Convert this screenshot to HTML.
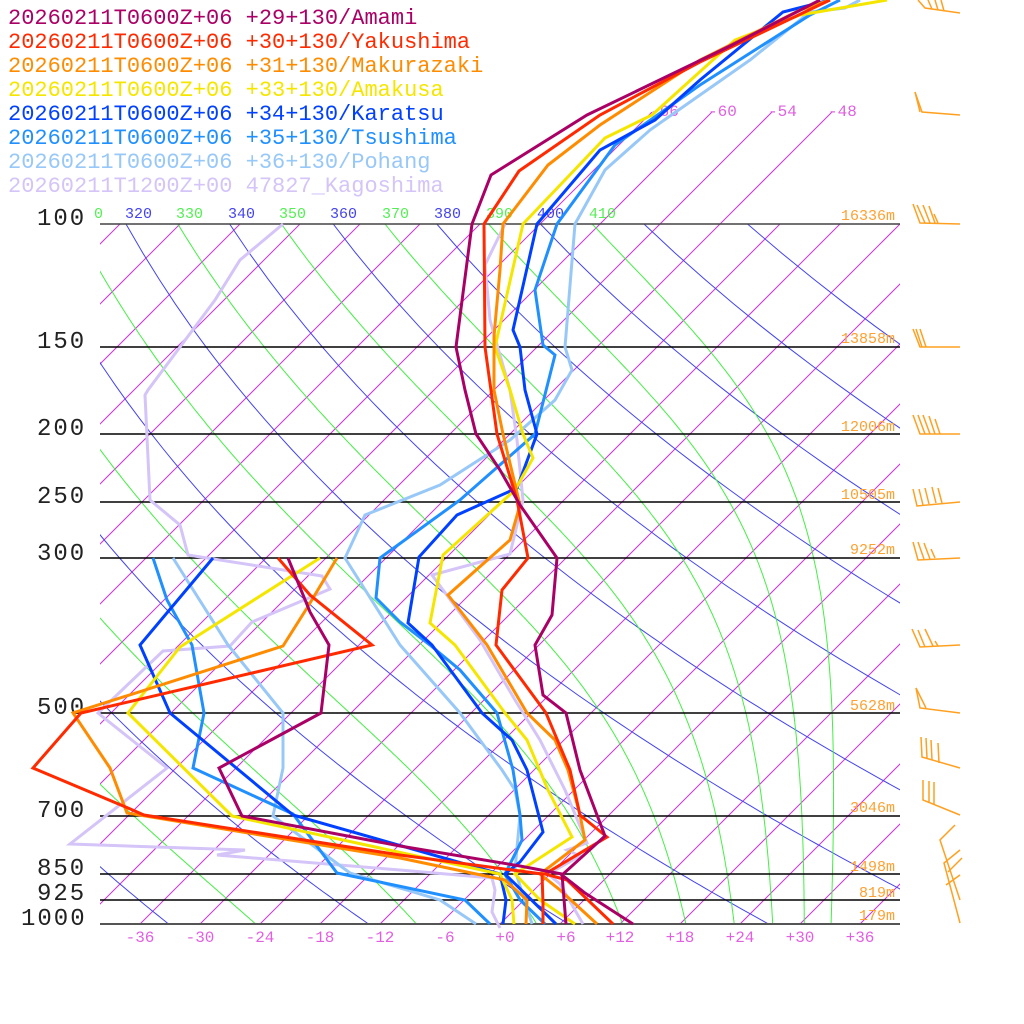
<!DOCTYPE html>
<html><head><meta charset="utf-8">
<style>
html,body{margin:0;padding:0;background:#fff;}
svg{display:block;}
text{font-family:"Liberation Mono",monospace;}
</style></head>
<body>
<svg id="s" width="1024" height="1024" viewBox="0 0 1024 1024" xmlns="http://www.w3.org/2000/svg">
<defs>
<clipPath id="cp"><rect x="100" y="224" width="800" height="700"/></clipPath>
<clipPath id="cp2"><rect x="100" y="112" width="800" height="812"/></clipPath>
</defs>
<rect width="1024" height="1024" fill="#fff"/>
<g id="bg"></g>

<g stroke="#000" stroke-width="1.5">
<line x1="100" y1="224" x2="900" y2="224" stroke="#444"/>
<line x1="100" y1="347" x2="900" y2="347"/>
<line x1="100" y1="434" x2="900" y2="434"/>
<line x1="100" y1="502" x2="900" y2="502"/>
<line x1="100" y1="558" x2="900" y2="558"/>
<line x1="100" y1="713" x2="900" y2="713"/>
<line x1="100" y1="816" x2="900" y2="816"/>
<line x1="100" y1="874" x2="900" y2="874"/>
<line x1="100" y1="900" x2="900" y2="900"/>
<line x1="100" y1="924" x2="900" y2="924" stroke="#555" stroke-width="2"/>
</g>
<g font-size="24" fill="#222" letter-spacing="2">
<text x="37" y="225">100</text>
<text x="37" y="348">150</text>
<text x="37" y="435">200</text>
<text x="37" y="503">250</text>
<text x="37" y="560">300</text>
<text x="37" y="714">500</text>
<text x="37" y="817">700</text>
<text x="37" y="875">850</text>
<text x="37" y="900">925</text>
<text x="21" y="925">1000</text>
</g>
<g font-size="16" fill="#e060e0" text-anchor="middle">
<text x="140" y="942">-36</text><text x="200" y="942">-30</text><text x="260" y="942">-24</text>
<text x="320" y="942">-18</text><text x="380" y="942">-12</text><text x="445" y="942">-6</text>
<text x="505" y="942">+0</text><text x="566" y="942">+6</text><text x="620" y="942">+12</text>
<text x="680" y="942">+18</text><text x="740" y="942">+24</text><text x="800" y="942">+30</text><text x="860" y="942">+36</text>
</g>
<g font-size="16" fill="#e060e0">
<text x="650" y="116">-66</text><text x="708" y="116">-60</text><text x="768" y="116">-54</text><text x="828" y="116">-48</text>
</g>
<g font-size="15">
<text x="94" y="218" fill="#55ee55">0</text>
<text x="125" y="218" fill="#4444ee">320</text>
<text x="176" y="218" fill="#55ee55">330</text>
<text x="228" y="218" fill="#4444ee">340</text>
<text x="279" y="218" fill="#55ee55">350</text>
<text x="330" y="218" fill="#4444ee">360</text>
<text x="382" y="218" fill="#55ee55">370</text>
<text x="434" y="218" fill="#4444ee">380</text>
<text x="486" y="218" fill="#55ee55">390</text>
<text x="537" y="218" fill="#4444ee">400</text>
<text x="589" y="218" fill="#55ee55">410</text>
</g>
<g font-size="15" fill="#ffa030" text-anchor="end">
<text x="895" y="220">16336m</text>
<text x="895" y="343">13858m</text>
<text x="895" y="431">12006m</text>
<text x="895" y="499">10505m</text>
<text x="895" y="554">9252m</text>
<text x="895" y="710">5628m</text>
<text x="895" y="812">3046m</text>
<text x="895" y="871">1498m</text>
<text x="895" y="897">819m</text>
<text x="895" y="920">179m</text>
</g>

<g fill="none" stroke-width="3" stroke-linejoin="miter">
<polyline stroke="#d4c4f8" points="583,924 560,884 548,874 580,856 567,850 587,843 565,790 540,740 515,700 480,640 432,575 510,554 523,500 517,440 510,390 490,320 485,265 505,224"/>
<polyline stroke="#d4c4f8" points="500,928 492,912 495,890 492,878 400,870 217,855 245,850 70,844 167,768 98,713 163,651 230,646 252,622 330,589 322,576 188,555 180,525 150,500 145,395 148,390 215,300 240,260 283,224"/>
<polyline stroke="#98c8f8" points="532,924 515,870 520,815 515,790 502,770 460,713 400,645 345,558 365,515 440,485 510,440 555,400 572,370 565,347 575,224 605,170 650,130 750,60 810,12 845,8 860,0"/>
<polyline stroke="#98c8f8" points="476,924 440,900 350,873 273,816 283,768 283,713 228,645 173,558"/>
<polyline stroke="#2090ff" points="545,924 520,900 505,874 522,840 520,815 513,770 497,713 460,670 430,645 400,622 376,598 380,558 460,500 535,434 555,355 543,345 535,290 557,224 615,145 700,85 810,15 840,0"/>
<polyline stroke="#2090ff" points="490,924 465,900 337,873 293,814 193,768 204,713 192,645 167,600 153,558"/>
<polyline stroke="#0040ff" points="556,924 505,874 520,862 543,832 527,770 512,740 482,713 432,645 408,623 419,557 457,515 517,488 537,434 525,390 520,347 513,330 537,224 600,150 655,120 700,80 783,12 830,0"/>
<polyline stroke="#0040ff" points="503,924 506,900 500,874 293,815 170,713 140,645 213,558"/>
<polyline stroke="#f5e600" points="575,924 540,900 515,874 572,837 548,790 527,740 505,713 455,645 430,623 443,555 515,490 533,458 523,434 510,390 495,347 508,290 523,224 605,138 652,115 735,40 800,15 887,0"/>
<polyline stroke="#f5e600" points="514,924 512,900 500,874 232,816 128,713 180,647 320,558"/>
<polyline stroke="#ff8c00" points="597,924 560,890 540,874 585,840 580,815 568,770 555,740 527,713 487,645 448,595 510,540 520,505 503,434 494,390 494,336 500,270 503,224 548,165 600,125 700,60 800,10 830,0"/>
<polyline stroke="#ff8c00" points="526,924 527,900 505,880 400,858 127,813 110,768 73,713 283,646 307,608 337,558"/>
<polyline stroke="#ff2a00" points="613,924 567,880 545,874 607,837 580,815 570,770 546,713 496,645 502,590 528,558 517,500 497,434 485,347 484,224 519,171 600,115 700,62 830,0"/>
<polyline stroke="#ff2a00" points="543,924 543,903 542,874 400,855 144,815 128,808 33,768 81,713 372,645 310,595 278,558"/>
<polyline stroke="#aa0066" points="633,924 585,893 562,875 605,836 597,815 580,770 566,713 543,695 535,645 552,615 557,558 520,505 500,470 476,434 465,390 456,347 472,224 491,175 587,115 730,46 820,0"/>
<polyline stroke="#aa0066" points="566,924 562,874 520,866 400,846 242,816 219,768 321,713 329,645 310,612 288,558"/>
</g>

<g fill="none" stroke="#ffa020" stroke-width="1.5">
<polyline points="918,0 925,8 960,13"/><line x1="928" y1="0" x2="932" y2="9"/><line x1="935" y1="0" x2="938" y2="10"/><line x1="941" y1="0" x2="944" y2="11"/>
<polyline points="915,92 922,112 960,115"/><line x1="915" y1="92" x2="920" y2="112"/>
<polyline points="913,204 920,223 960,224"/><line x1="917" y1="205" x2="925" y2="223"/><line x1="923" y1="205" x2="930" y2="223"/><line x1="929" y1="206" x2="935" y2="223"/><line x1="934" y1="214" x2="938" y2="223"/>
<polyline points="913,329 920,347 960,347"/><line x1="916" y1="329" x2="922" y2="347"/><line x1="920" y1="329" x2="926" y2="347"/>
<polyline points="913,415 920,434 960,434"/><line x1="918" y1="415" x2="925" y2="434"/><line x1="923" y1="415" x2="930" y2="434"/><line x1="929" y1="416" x2="935" y2="434"/><line x1="935" y1="419" x2="940" y2="434"/>
<polyline points="913,489 917,506 960,502"/><line x1="919" y1="489" x2="923" y2="505"/><line x1="925" y1="488" x2="929" y2="504"/><line x1="932" y1="487" x2="936" y2="503"/><line x1="938" y1="488" x2="942" y2="503"/>
<polyline points="913,542 918,560 960,558"/><line x1="918" y1="542" x2="924" y2="559"/><line x1="924" y1="543" x2="930" y2="559"/><line x1="931" y1="549" x2="935" y2="558"/>
<polyline points="912,629 920,647 960,645"/><line x1="918" y1="630" x2="925" y2="647"/><line x1="925" y1="629" x2="933" y2="646"/><line x1="935" y1="641" x2="938" y2="646"/>
<polyline points="916,688 920,708 960,713"/><line x1="916" y1="688" x2="926" y2="708"/>
<polyline points="921,737 922,757 960,768"/><line x1="926" y1="738" x2="927" y2="758"/><line x1="931" y1="740" x2="932" y2="760"/><line x1="938" y1="743" x2="939" y2="763"/>
<polyline points="923,780 923,800 960,815"/><line x1="929" y1="781" x2="929" y2="802"/><line x1="934" y1="782" x2="934" y2="805"/>
<polyline points="955,825 940,840 960,900"/><polyline points="960,850 944,863 960,923"/><line x1="948" y1="872" x2="962" y2="858"/><line x1="946" y1="885" x2="960" y2="875"/>
</g>

<g font-size="22">
<text x="8" y="24" fill="#aa0066">20260211T0600Z+06 +29+130/Amami</text>
<text x="8" y="48" fill="#ff2a00">20260211T0600Z+06 +30+130/Yakushima</text>
<text x="8" y="72" fill="#ff8c00">20260211T0600Z+06 +31+130/Makurazaki</text>
<text x="8" y="96" fill="#f5e600">20260211T0600Z+06 +33+130/Amakusa</text>
<text x="8" y="120" fill="#0040ff">20260211T0600Z+06 +34+130/Karatsu</text>
<text x="8" y="144" fill="#2090ff">20260211T0600Z+06 +35+130/Tsushima</text>
<text x="8" y="168" fill="#98c8f8">20260211T0600Z+06 +36+130/Pohang</text>
<text x="8" y="192" fill="#d4c4f8">20260211T1200Z+00 47827_Kagoshima</text>
</g>

<script>
(function(){
var NS="http://www.w3.org/2000/svg",bg=document.getElementById("bg");
function Y(p){return 224+304*Math.log(p/100);}
function X(t,y){return 500+10*t+(924-y);}
function pl(pts,col,clip){var e=document.createElementNS(NS,"polyline");e.setAttribute("points",pts.map(function(a){return a[0].toFixed(1)+","+a[1].toFixed(1)}).join(" "));e.setAttribute("fill","none");e.setAttribute("stroke",col);e.setAttribute("stroke-width","1");e.setAttribute("clip-path","url(#"+clip+")");bg.appendChild(e);}
for(var T=-120;T<=60;T+=6){
 pl([[X(T,T<=-48?112:224),T<=-48?112:224],[X(T,924),924]],"#cc33dd",T<=-48&&T>=-66?"cp2":"cp");}
for(var th=200;th<=440;th+=20){var pts=[];for(var p=100;p<=1000;p+=10){var t=th*Math.pow(p/1000,0.2857)-273.15;var y=Y(p);pts.push([X(t,y),y]);}pl(pts,"#4444ee","cp");}
function es(tc){return 6.112*Math.exp(17.67*tc/(tc+243.5));}
for(var te=210;te<=410;te+=20){var p=100,T=te*Math.pow(0.1,0.2857),pts=[];
 while(p<=1000.01){var y=Y(p);pts.push([X(T-273.15,y),y]);
  var dp=2;for(var k=0;k<4;k++){var e=es(T-273.15),rs=0.622*e/(p-e);
   var dT=(287*T+2.5e6*rs)/(1005+2.5e6*2.5e6*rs*0.622/(287*T*T))/p*(dp/4);T+=dT;p+=dp/4;}}
 pl(pts,"#44ee44","cp");}
})();
</script>
</svg>
</body></html>
